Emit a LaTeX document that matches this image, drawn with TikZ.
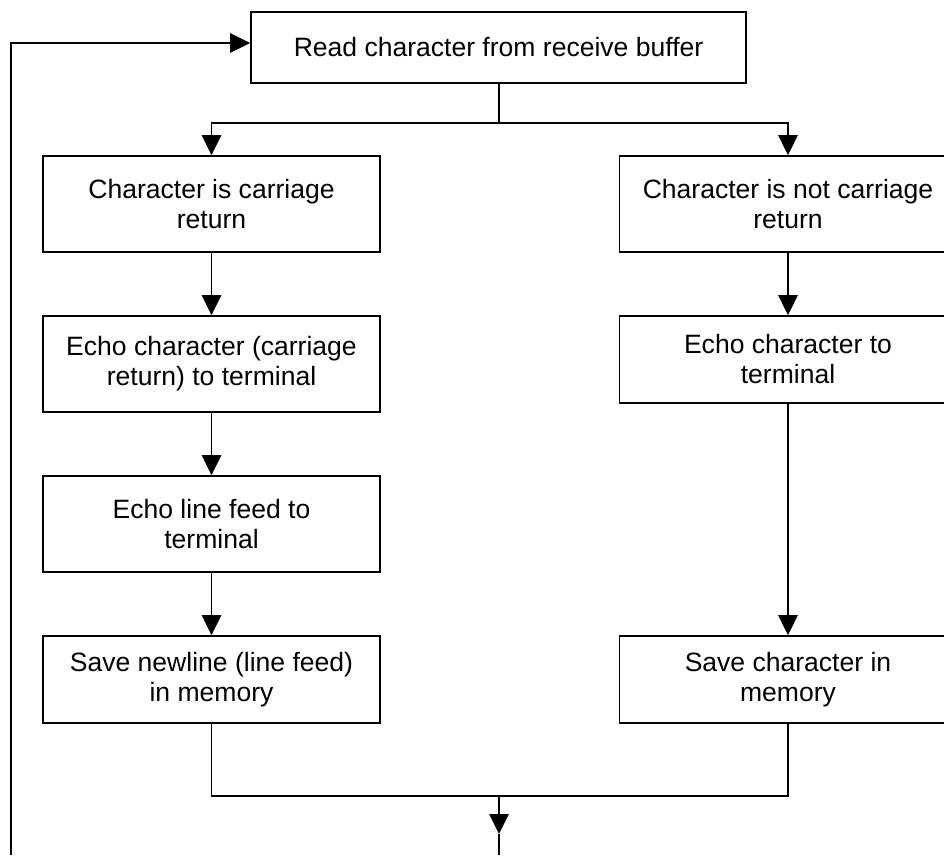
\documentclass[tikz,border=0pt]{standalone}
\usepackage{fontspec}
\setmainfont{Liberation Sans}
\usetikzlibrary{arrows.meta}
\begin{document}
\begin{tikzpicture}[x=0.75pt,y=-0.75pt,
  box/.style={draw, line width=1.2pt, minimum width=252.75pt, inner sep=0pt, align=center,
    font=\fontsize{19.9pt}{22.5pt}\selectfont},
  flow/.style={line width=1.2pt, -{Triangle[length=15pt,width=14.5pt]}},
  plain/.style={line width=1.2pt}]
\path[use as bounding box, clip] (0,0) rectangle (944,855);
\node[box, minimum width=371.25pt, minimum height=53.25pt] (top) at (498.5,47.5) {Read character from receive buffer};
\node[box, minimum height=72pt] (L1) at (211.5,204) {Character is carriage\\return};
\node[box, minimum height=72pt] (L2) at (211.5,364) {Echo character (carriage\\return) to terminal};
\node[box, minimum height=72pt] (L3) at (211.5,524) {Echo line feed to\\terminal};
\node[box, minimum height=65.25pt] (L4) at (211.5,679.5) {Save newline (line feed)\\in memory};
\node[box, minimum height=72pt] (R1) at (788,204) {Character is not carriage\\return};
\node[box, minimum height=65.25pt] (R2) at (788,359.5) {Echo character to\\terminal};
\node[box, minimum height=65.25pt] (R3) at (788,679.5) {Save character in\\memory};
\coordinate (split) at (499,123);
\coordinate (merge) at (499,796);
\coordinate (tip) at (499,834);
\coordinate (out) at (499,855);
\coordinate (fbstart) at (11,855);
\draw[plain] (top.south -| split) -- (split);
\draw[flow] (split) -| (L1.north);
\draw[flow] (split) -| (R1.north);
\draw[flow] (L1.south) -- (L2.north);
\draw[flow] (L2.south) -- (L3.north);
\draw[flow] (L3.south) -- (L4.north);
\draw[flow] (R1.south) -- (R2.north);
\draw[flow] (R2.south) -- (R3.north);
\draw[plain] (L4.south) |- (merge);
\draw[plain] (R3.south) |- (merge);
\draw[flow] (merge) -- (tip);
\draw[plain] (tip) -- (out);
\draw[flow] (fbstart) |- (top.west |- 0,43);
\end{tikzpicture}
\end{document}
